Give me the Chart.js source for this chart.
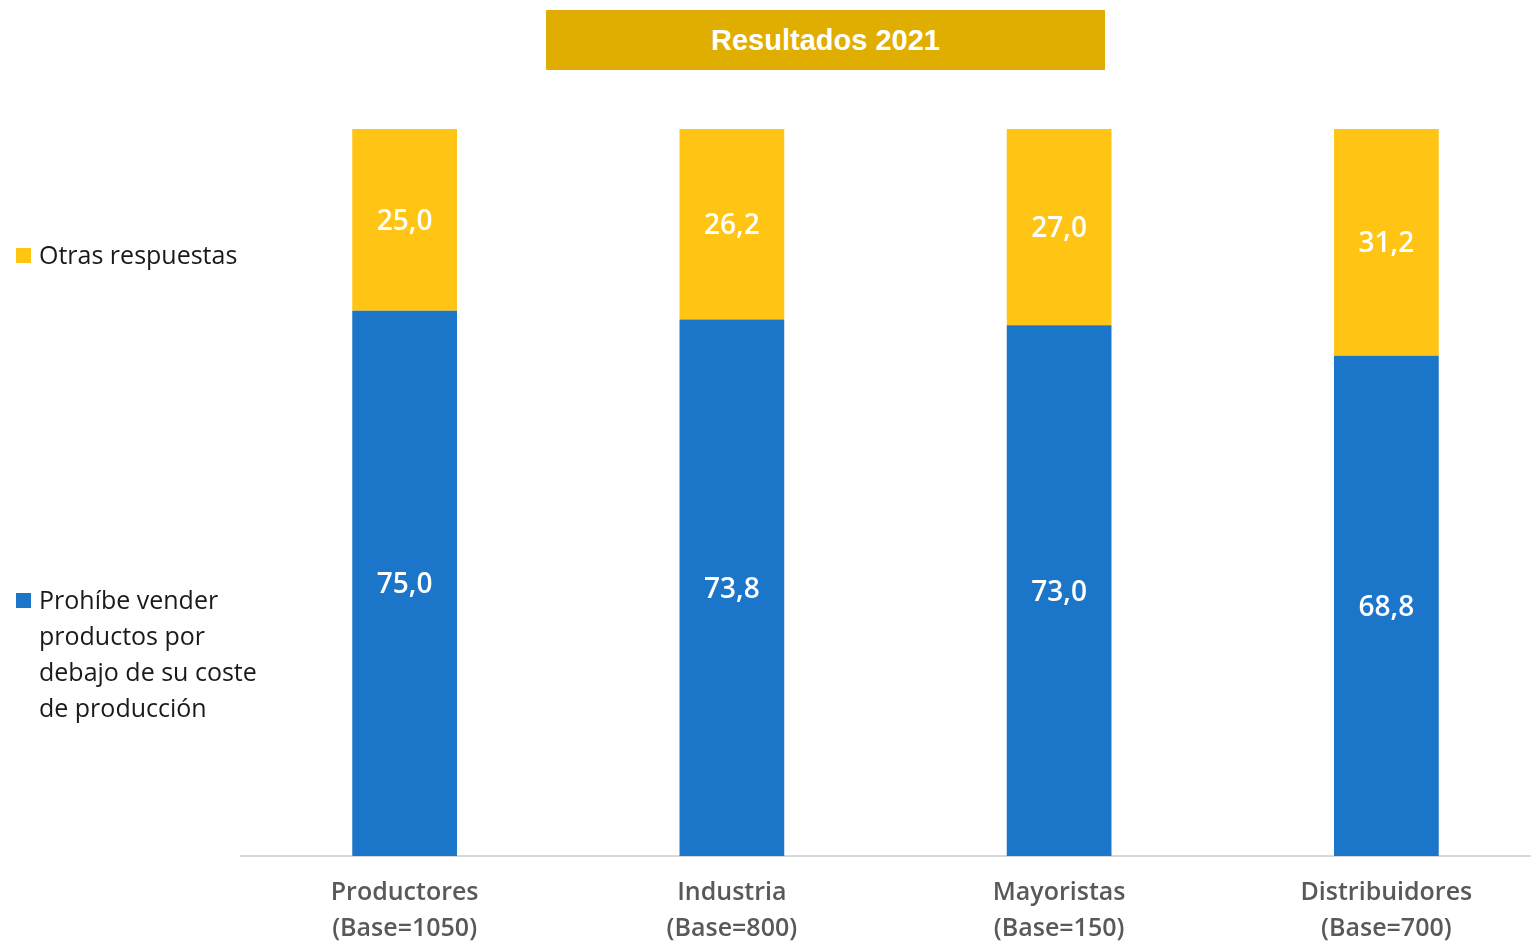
<!DOCTYPE html>
<html>
<head>
<meta charset="utf-8">
<script src="https://cdn.jsdelivr.net/npm/chart.js@4/dist/chart.umd.min.js"></script>
<style>
  html, body { margin:0; padding:0; background:#fff; overflow:hidden; width:1531px; height:943px; }
  #wrap { position:relative; width:1531px; height:943px; overflow:hidden; }
  canvas { position:absolute; left:0; top:0; }
  #title { position:absolute; left:546px; top:10px; width:559px; height:60px; background:#E0AE00;
    color:#fff; font-family:"Liberation Sans", Arial, sans-serif; font-weight:bold; font-size:29px;
    line-height:60px; text-align:center; }
  .leg { position:absolute; left:16px; font-family:"Open Sans", sans-serif; font-size:25px; color:#1a1a1a; line-height:36px; }
  .leg .sw { position:absolute; left:0; width:15px; height:15px; }
  .leg .tx { position:absolute; left:23px; top:0; white-space:nowrap; }
</style>
</head>
<body>
<div id="wrap">
  <canvas id="c" width="1550" height="970"></canvas>
  <div id="title">Resultados 2021</div>
  <div class="leg" id="leg1" style="top:236px;"><div class="sw" style="top:12px;background:#FFC414;"></div><div class="tx">Otras respuestas</div></div>
  <div class="leg" id="leg2" style="top:581px;"><div class="sw" style="top:12px;background:#1B75C9;"></div><div class="tx">Prohíbe vender<br>productos por<br>debajo de su coste<br>de producción</div></div>
</div>
<script>
const categories = ["Productores", "Industria", "Mayoristas", "Distribuidores"];
const bases = ["(Base=1050)", "(Base=800)", "(Base=150)", "(Base=700)"];
const prohibeValues = [75.0, 73.8, 73.0, 68.8];
const otrasValues = [25.0, 26.2, 27.0, 31.2];

const labelPlugin = {
  id: 'segLabels',
  afterDatasetsDraw(chart) {
    const ctx = chart.ctx;
    ctx.save();
    ctx.fillStyle = '#ffffff';
    ctx.font = '600 28px "Open Sans", sans-serif';
    ctx.textAlign = 'center';
    ctx.textBaseline = 'middle';
    chart.data.datasets.forEach((ds, di) => {
      const meta = chart.getDatasetMeta(di);
      meta.data.forEach((el, i) => {
        const v = ds.data[i];
        const y = (el.y + el.base) / 2 + 2;
        ctx.fillText(v.toFixed(1).replace('.', ','), el.x, y);
      });
    });
    ctx.restore();
  }
};

new Chart(document.getElementById('c'), {
  type: 'bar',
  data: {
    labels: categories.map((c, i) => [c, bases[i]]),
    datasets: [
      { label: 'Prohíbe vender productos por debajo de su coste de producción', data: prohibeValues, backgroundColor: '#1B75C9', borderWidth: 0 },
      { label: 'Otras respuestas', data: otrasValues, backgroundColor: '#FFC414', borderWidth: 0 }
    ]
  },
  options: {
    responsive: false,
    animation: false,
    layout: { padding: { left: 241, top: 129, right: 0, bottom: 4 } },
    plugins: { legend: { display: false }, tooltip: { enabled: false } },
    datasets: { bar: { barPercentage: 0.32, categoryPercentage: 1 } },
    scales: {
      x: {
        stacked: true,
        grid: { display: false, drawTicks: false },
        border: { display: true, color: '#d9d9d9', width: 2 },
        ticks: { color: '#595959', font: { family: '"Open Sans", sans-serif', size: 25, weight: '600', lineHeight: 1.44 }, padding: 19, maxRotation: 0 }
      },
      y: { stacked: true, display: false, min: 0, max: 100 }
    }
  },
  plugins: [labelPlugin]
});
</script>
</body>
</html>
